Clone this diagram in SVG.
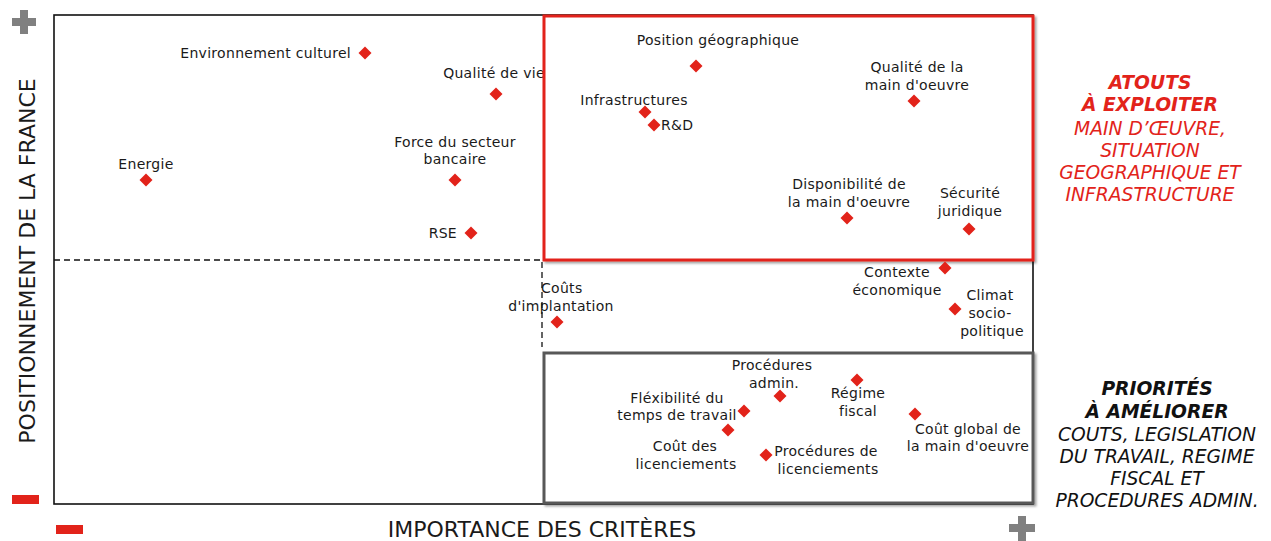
<svg xmlns="http://www.w3.org/2000/svg" width="1271" height="541" viewBox="0 0 1271 541">
<defs>
<style>
.lbl{font-family:"DejaVu Sans","Verdana",sans-serif;font-size:14px;fill:#1a1a1a;letter-spacing:0.3px}
.c{text-anchor:middle}
.e{text-anchor:end}
.ax{font-family:"DejaVu Sans",sans-serif;font-size:22px;fill:#1a1a1a}
.side{font-family:"DejaVu Sans",sans-serif;font-size:18.7px;font-style:italic;text-anchor:middle}
.b{font-weight:bold}
.red{fill:#e2231a}
.blk{fill:#111}
.dot{fill:#e2231a}
</style>
<filter id="sh" x="-5%" y="-5%" width="110%" height="110%">
<feDropShadow dx="2" dy="2" stdDeviation="1.2" flood-color="#000" flood-opacity="0.35"/>
</filter>
<path id="d" d="M0,-6.5 L6.5,0 L0,6.5 L-6.5,0Z"/>
</defs>
<rect width="1271" height="541" fill="#fff"/>

<g id="frame">
<rect x="54" y="15" width="979" height="489" fill="none" stroke="#111" stroke-width="1.6"/>
<line x1="54" y1="260" x2="543" y2="260" stroke="#111" stroke-width="1.3" stroke-dasharray="6,4"/>
<line x1="542" y1="262" x2="542" y2="347" stroke="#111" stroke-width="1.3" stroke-dasharray="6,4"/>
</g>

<g id="n-qualite-vie"><use href="#d" x="496" y="94" class="dot"/><text class="lbl c" x="494" y="78">Qualité de vie</text></g>

<g id="box-atouts"><rect x="544" y="16" width="489" height="244" fill="#fff" stroke="#e2231a" stroke-width="3" filter="url(#sh)"/></g>
<g id="box-priorites"><rect x="544" y="353" width="489" height="150" fill="#fff" stroke="#595959" stroke-width="3" filter="url(#sh)"/></g>

<g id="axes">
<text class="ax" transform="translate(35,261) rotate(-90)" text-anchor="middle">POSITIONNEMENT DE LA FRANCE</text>
<text class="ax" x="542" y="537" text-anchor="middle">IMPORTANCE DES CRITÈRES</text>
<path d="M20,10 h8 v8 h8 v8 h-8 v8 h-8 v-8 h-8 v-8 h8Z" fill="#808080"/>
<path d="M1018,516 h8 v8 h9 v8 h-9 v9 h-8 v-9 h-9 v-8 h9Z" fill="#808080"/>
<rect x="12" y="495" width="27" height="9" fill="#e2231a"/>
<rect x="56" y="525" width="27" height="9" fill="#e2231a"/>
</g>

<g id="connectors"></g>

<g id="n-env"><use href="#d" x="365" y="53" class="dot"/><text class="lbl e" x="351" y="58">Environnement culturel</text></g>
<g id="n-energie"><use href="#d" x="146" y="180" class="dot"/><text class="lbl c" x="146" y="169">Energie</text></g>
<g id="n-banque"><use href="#d" x="455" y="180" class="dot"/><text class="lbl c" x="455" y="147">Force du secteur</text><text class="lbl c" x="455" y="164">bancaire</text></g>
<g id="n-rse"><use href="#d" x="471" y="233" class="dot"/><text class="lbl e" x="457" y="238">RSE</text></g>
<g id="n-position"><use href="#d" x="696" y="66" class="dot"/><text class="lbl c" x="718" y="45">Position géographique</text></g>
<g id="n-infra"><use href="#d" x="645" y="112" class="dot"/><text class="lbl c" x="634" y="105">Infrastructures</text></g>
<g id="n-rd"><use href="#d" x="654" y="125" class="dot"/><text class="lbl" x="661" y="130">R&amp;D</text></g>
<g id="n-qualite-mo"><use href="#d" x="914" y="101" class="dot"/><text class="lbl c" x="917" y="72">Qualité de la</text><text class="lbl c" x="917" y="90">main d'oeuvre</text></g>
<g id="n-dispo"><use href="#d" x="847" y="218" class="dot"/><text class="lbl c" x="849" y="189">Disponibilité de</text><text class="lbl c" x="849" y="207">la main d'oeuvre</text></g>
<g id="n-securite"><use href="#d" x="969" y="229" class="dot"/><text class="lbl c" x="970" y="198">Sécurité</text><text class="lbl c" x="970" y="216">juridique</text></g>
<g id="n-contexte"><use href="#d" x="945" y="268" class="dot"/><text class="lbl c" x="897" y="277">Contexte</text><text class="lbl c" x="897" y="295">économique</text></g>
<g id="n-climat"><use href="#d" x="955" y="309" class="dot"/><text class="lbl c" x="990" y="300">Climat</text><text class="lbl c" x="990" y="318">socio-</text><text class="lbl c" x="992" y="336">politique</text></g>
<g id="n-couts-impl"><use href="#d" x="557" y="322" class="dot"/><text class="lbl" x="541" y="293">Coûts</text><text class="lbl c" x="561" y="311">d'implantation</text></g>
<g id="n-proc-admin"><use href="#d" x="780" y="396" class="dot"/><text class="lbl c" x="772" y="370">Procédures</text><text class="lbl c" x="774" y="388">admin.</text></g>
<g id="n-regime"><use href="#d" x="857" y="380" class="dot"/><text class="lbl c" x="858" y="398">Régime</text><text class="lbl c" x="858" y="416">fiscal</text></g>
<g id="n-flex"><use href="#d" x="744" y="411" class="dot"/><text class="lbl c" x="677" y="403">Fléxibilité du</text><text class="lbl c" x="677" y="420">temps de travail</text></g>
<g id="n-cout-lic"><use href="#d" x="728" y="430" class="dot"/><text class="lbl c" x="685" y="451">Coût des</text><text class="lbl c" x="686" y="469">licenciements</text></g>
<g id="n-proc-lic"><use href="#d" x="766" y="455" class="dot"/><text class="lbl c" x="826" y="456">Procédures de</text><text class="lbl c" x="828" y="474">licenciements</text></g>
<g id="n-cout-global"><use href="#d" x="915" y="414" class="dot"/><text class="lbl c" x="968" y="434">Coût global de</text><text class="lbl c" x="968" y="451">la main d'oeuvre</text></g>

<g id="legend-atouts">
<text class="side b red" x="1150" y="89">ATOUTS</text>
<text class="side b red" x="1150" y="111">À EXPLOITER</text>
<text class="side red" x="1150" y="135">MAIN D’ŒUVRE,</text>
<text class="side red" x="1150" y="157">SITUATION</text>
<text class="side red" x="1150" y="179">GEOGRAPHIQUE ET</text>
<text class="side red" x="1150" y="201">INFRASTRUCTURE</text>
</g>
<g id="legend-priorites">
<text class="side b blk" x="1157" y="395">PRIORITÉS</text>
<text class="side b blk" x="1157" y="418">À AMÉLIORER</text>
<text class="side blk" x="1157" y="441">COUTS, LEGISLATION</text>
<text class="side blk" x="1157" y="463">DU TRAVAIL, REGIME</text>
<text class="side blk" x="1157" y="485">FISCAL ET</text>
<text class="side blk" x="1157" y="507">PROCEDURES ADMIN.</text>
</g>
</svg>
